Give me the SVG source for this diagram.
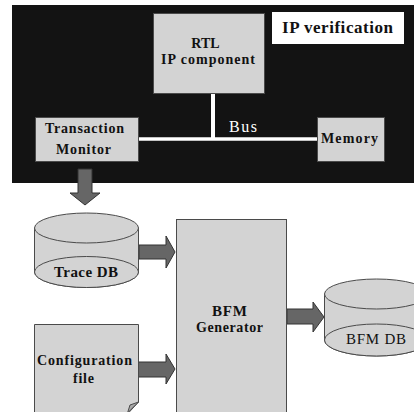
<svg xmlns="http://www.w3.org/2000/svg" width="414" height="412" viewBox="0 0 414 412">
<style>
.box{fill:#d3d3d3;stroke:#4a4a4a;stroke-width:1}
.arrow{fill:#666;stroke:#333;stroke-width:1}
.bus{stroke:#fff;fill:none}
</style>
<rect x="12" y="5" width="402" height="178" fill="#131313"/>
<g id="connectors">
  <line class="bus" x1="138" y1="139" x2="317" y2="139" stroke-width="3.5"/>
  <line class="bus" x1="213" y1="93" x2="213" y2="139" stroke-width="4"/>
  <polygon class="arrow" points="78,169 92,169 92,193 100,193 85,205 70,193 78,193"/>
  <polygon class="arrow" points="139,245 166,245 166,236 175,252 166,268 166,259 139,259"/>
  <polygon class="arrow" points="138,362 166,362 166,354 175,369 166,384 166,377 138,377"/>
  <polygon class="arrow" points="287,309 313,309 313,302 324,317 313,332 313,324 287,324"/>
</g>
<g font-family="Liberation Serif, Times New Roman, serif" font-weight="bold" fill="#111" text-anchor="middle">
<g id="rtl">
  <rect class="box" x="153.5" y="13.5" width="111" height="80"/>
  <text x="205.5" y="48" font-size="14">RTL</text>
  <text x="208" y="64" font-size="14" textLength="94">IP component</text>
</g>
<g id="ipver">
  <rect x="272" y="12" width="132" height="32" fill="#fff"/>
  <text x="337.5" y="33" font-size="17" textLength="111">IP verification</text>
</g>
<g id="monitor">
  <rect class="box" x="35.5" y="117.5" width="103" height="44"/>
  <text x="84.5" y="133" font-size="14" textLength="79">Transaction</text>
  <text x="83.5" y="154" font-size="14" textLength="55">Monitor</text>
</g>
<g id="bus">
  <text x="243" y="132" font-size="16" font-weight="normal" fill="#fff" textLength="28">Bus</text>
</g>
<g id="memory">
  <rect class="box" x="317.5" y="117.5" width="67" height="44"/>
  <text x="349.5" y="143" font-size="14" textLength="57">Memory</text>
</g>
<g id="tracedb">
  <path class="box" d="M34.5,228 L34.5,272 A52,15.5 0 0 0 138.5,272 L138.5,228 Z"/>
  <ellipse class="box" cx="86.5" cy="228" rx="52" ry="15"/>
  <ellipse class="box" cx="86.5" cy="272" rx="52" ry="15.5"/>
  <text x="86" y="277" font-size="15" textLength="64">Trace DB</text>
</g>
<g id="bfmgen">
  <rect class="box" x="176.5" y="219.5" width="110" height="200"/>
  <text x="229.5" y="316" font-size="15" textLength="35">BFM</text>
  <text x="229.5" y="332" font-size="14" textLength="67">Generator</text>
</g>
<g id="bfmdb">
  <path class="box" d="M324.5,294 L324.5,340 A52,16 0 0 0 428.5,340 L428.5,294 Z"/>
  <ellipse class="box" cx="376.5" cy="294" rx="52" ry="15"/>
  <ellipse class="box" cx="376.5" cy="340" rx="52" ry="16"/>
  <text x="376" y="344" font-size="15" font-weight="normal" textLength="60">BFM DB</text>
</g>
<g id="config">
  <path class="box" d="M34.5,324.5 H138.5 V402 L127.5,414 H34.5 Z"/>
  <polygon points="138.5,402 130,405 127.5,413" fill="#a8a8a8" stroke="#4a4a4a" stroke-width="1"/>
  <text x="84.5" y="365" font-size="14" textLength="95">Configuration</text>
  <text x="83.5" y="383" font-size="14" textLength="21">file</text>
</g>
</g>
</svg>
